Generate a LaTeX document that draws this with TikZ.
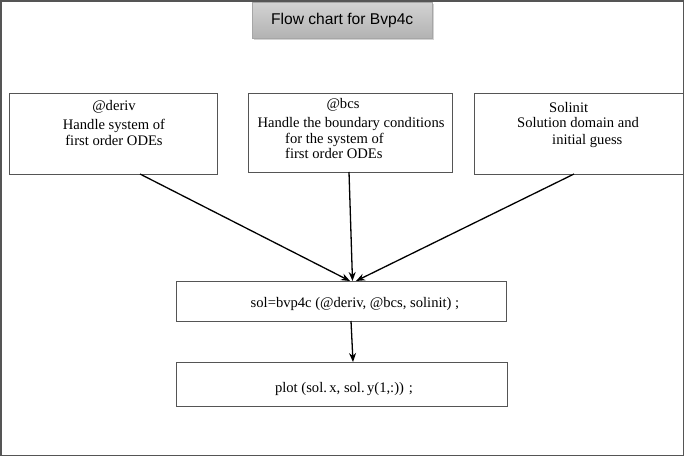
\documentclass[tikz,border=0pt]{standalone}
\usepackage{fontspec}
\setmainfont{Liberation Serif}
\newfontfamily\titlefont{Liberation Sans}
\usetikzlibrary{arrows.meta,shadows}
\definecolor{frame}{HTML}{555555}
\tikzset{
  boxstyle/.style={draw=frame, line width=0.9pt, fill=white},
  txt/.style={font=\fontsize{14.6}{17}\selectfont, inner sep=0pt, anchor=base},
  txtl/.style={font=\fontsize{14.6}{17}\selectfont, inner sep=0pt, anchor=base west},
  arr/.style={-{Stealth[length=9pt,width=7pt]}, line width=1.3pt, black},
}
\begin{document}
\begin{tikzpicture}[x=1pt,y=-1pt]
\useasboundingbox (0,0) rectangle (685,457);
% outer frame
\draw[frame, line width=1.5pt] (1,1) rectangle (683.5,455.5);
% title
\node[draw=gray!70, top color=gray!35, bottom color=gray!60, drop shadow={opacity=0.35, shadow xshift=1.5pt, shadow yshift=-2pt},
      minimum width=180pt, minimum height=36pt, inner sep=0pt, anchor=north west,
      font=\titlefont\fontsize{15.6}{18}\selectfont] (title) at (252,2) {Flow chart for Bvp4c};
% boxes
\node[boxstyle, minimum width=208pt, minimum height=81pt, anchor=north west, inner sep=0pt] (deriv) at (9,93) {};
\node[boxstyle, minimum width=204pt, minimum height=79pt, anchor=north west, inner sep=0pt] (bcs) at (248,93) {};
\node[boxstyle, minimum width=209pt, minimum height=81pt, anchor=north west, inner sep=0pt] (solinit) at (474,93) {};
\node[boxstyle, minimum width=330pt, minimum height=40pt, anchor=north west, inner sep=0pt] (sol) at (176,281) {};
\node[boxstyle, minimum width=331pt, minimum height=44pt, anchor=north west, inner sep=0pt] (plot) at (176,362) {};
% texts deriv
\node[txt] (d1) at (114,111) {@deriv};
\node[txt] (d2) at (114,130) {Handle system of};
\node[txt] (d3) at (114,146) {first order ODEs};
% texts bcs
\node[txt] (b1) at (343,109) {@bcs};
\node[txt] (b2) at (351,128) {Handle the boundary conditions};
\node[txtl] (b3) at (285,144) {for the system of};
\node[txtl] (b4) at (285,159) {first order ODEs};
% texts solinit
\node[txtl] (s1) at (549,113) {Solinit};
\node[txtl] (s2) at (517,128) {Solution domain and};
\node[txtl] (s3) at (552,145) {initial guess};
% sol & plot texts
\node[txt] (soltxt) at (355,307) {sol=bvp4c (@deriv, @bcs, solinit) ;};
\node[txt] (plottxt) at (344,392) {plot (sol.\,x, sol.\,y(1,:)) ;};
% arrows
\coordinate (dA) at (140,174);
\coordinate (bA) at (349,172);
\coordinate (sA) at (574,174);
\coordinate (t1) at (350,281);
\coordinate (t2) at (352.5,281);
\coordinate (t3) at (356,281);
\draw[arr] (dA) -- (t1);
\draw[arr] (bA) -- (t2);
\draw[arr] (sA) -- (t3);
\coordinate (pA) at (351,321);
\coordinate (pB) at (353,362);
\draw[arr] (pA) -- (pB);
\end{tikzpicture}
\end{document}
